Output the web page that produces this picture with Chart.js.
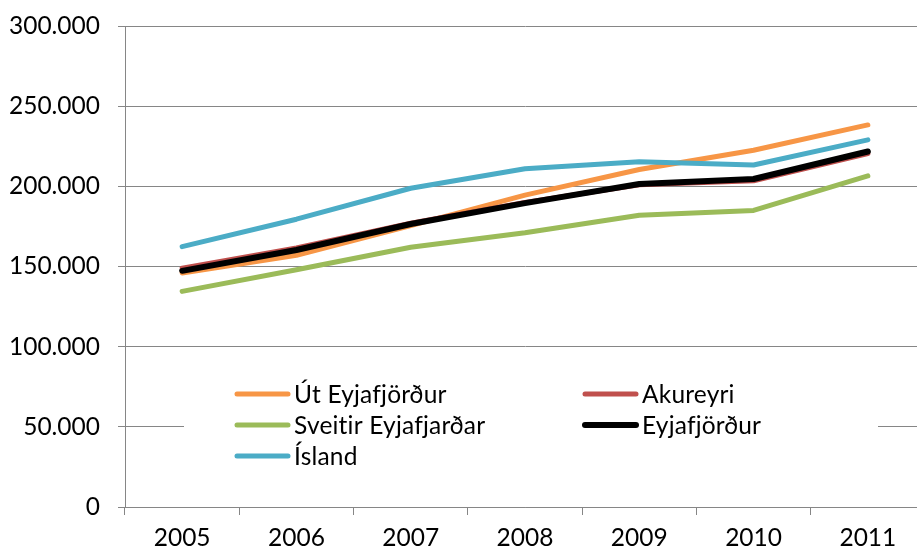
<!DOCTYPE html>
<html>
<head>
<meta charset="utf-8">
<script src="https://cdn.jsdelivr.net/npm/chart.js@4/dist/chart.umd.min.js"></script>
<style>
  html, body { margin: 0; padding: 0; background: #fff; overflow: hidden; }
  #wrap { width: 926px; height: 548px; position: relative; }
</style>
</head>
<body>
<div id="wrap"><canvas id="c" width="926" height="548"></canvas></div>
<script>
const years = ['2005', '2006', '2007', '2008', '2009', '2010', '2011'];
const seriesNames = ['Út Eyjafjörður', 'Akureyri', 'Sveitir Eyjafjarðar', 'Eyjafjörður', 'Ísland'];
const utEyjafjordur = [146000, 157000, 175500, 194500, 210500, 222500, 238300];
const akureyri      = [149000, 161500, 177000, 190000, 201000, 203500, 220500];
const sveitir       = [134500, 148000, 162000, 171000, 182000, 185000, 206500];
const eyjafjordur   = [147300, 160300, 176500, 189500, 201500, 204600, 221700];
const island        = [162400, 179500, 198800, 211000, 215300, 213300, 229000];
const yTicks = [0, 50000, 100000, 150000, 200000, 250000, 300000];

const colors = ['#F79646', '#C0504D', '#9BBB59', '#000000', '#4BACC6'];
const widths = [5, 5, 5, 6, 5];
const allValues = [utEyjafjordur, akureyri, sveitir, eyjafjordur, island];

const FONT = 'Lato, "Open Sans", sans-serif';

const datasets = seriesNames.map((name, i) => ({
  label: name,
  data: allValues[i],
  borderColor: colors[i],
  backgroundColor: colors[i],
  borderWidth: widths[i],
  pointRadius: 0,
  tension: 0,
  borderCapStyle: 'round',
  borderJoinStyle: 'round',
  fill: false,
  order: -i
}));

function fmt(v) {
  return String(v).replace(/\B(?=(\d{3})+(?!\d))/g, '.');
}

const insideLegend = {
  id: 'insideLegend',
  beforeDatasetsDraw(chart) {
    const ctx = chart.ctx;
    ctx.save();
    ctx.fillStyle = '#ffffff';
    ctx.fillRect(184, 368, 694, 108);
    const pos = [
      [235, 394], [583, 394],
      [235, 425], [583, 425],
      [235, 456]
    ];
    ctx.font = '24.5px ' + FONT;
    if ('letterSpacing' in ctx) ctx.letterSpacing = '0.2px';
    ctx.textBaseline = 'middle';
    ctx.textAlign = 'left';
    chart.data.datasets.forEach((ds, i) => {
      const [x, y] = pos[i];
      ctx.strokeStyle = ds.borderColor;
      ctx.lineWidth = ds.borderWidth;
      ctx.lineCap = 'round';
      ctx.beginPath();
      ctx.moveTo(x + 2, y);
      ctx.lineTo(x + 53, y);
      ctx.stroke();
      ctx.fillStyle = '#000';
      ctx.fillText(ds.label, x + 59, y + 1);
    });
    ctx.restore();
  }
};

new Chart(document.getElementById('c'), {
  type: 'line',
  data: { labels: years, datasets: datasets },
  options: {
    responsive: false,
    animation: false,
    devicePixelRatio: 1,
    layout: { padding: { top: 26, right: 1, left: 0, bottom: 0 } },
    plugins: { legend: { display: false }, tooltip: { enabled: false } },
    scales: {
      x: {
        offset: true,
        grid: {
          offset: true,
          drawOnChartArea: false,
          color: '#868686',
          tickLength: 8,
          lineWidth: 1
        },
        border: { color: '#868686', width: 1 },
        ticks: {
          color: '#000',
          font: { family: FONT, size: 24.5 },
          padding: 8,
          maxRotation: 0,
          autoSkip: false
        },
        afterFit(scale) {
          scale.height = 41;
          scale.paddingLeft = 0; scale.paddingRight = 0;
        }
      },
      y: {
        min: 0,
        max: 300000,
        afterBuildTicks(scale) { scale.ticks = yTicks.map(v => ({ value: v })); },
        grid: {
          color: '#868686',
          tickLength: 7,
          lineWidth: 1
        },
        border: { color: '#868686', width: 1 },
        ticks: {
          color: '#000',
          font: { family: FONT, size: 24.5 },
          padding: 18,
          callback: (v) => fmt(v)
        },
        afterFit(scale) {
          scale.width = 125;
          scale.paddingTop = 0; scale.paddingBottom = 0;
        }
      }
    }
  },
  plugins: [insideLegend]
});
</script>
</body>
</html>
